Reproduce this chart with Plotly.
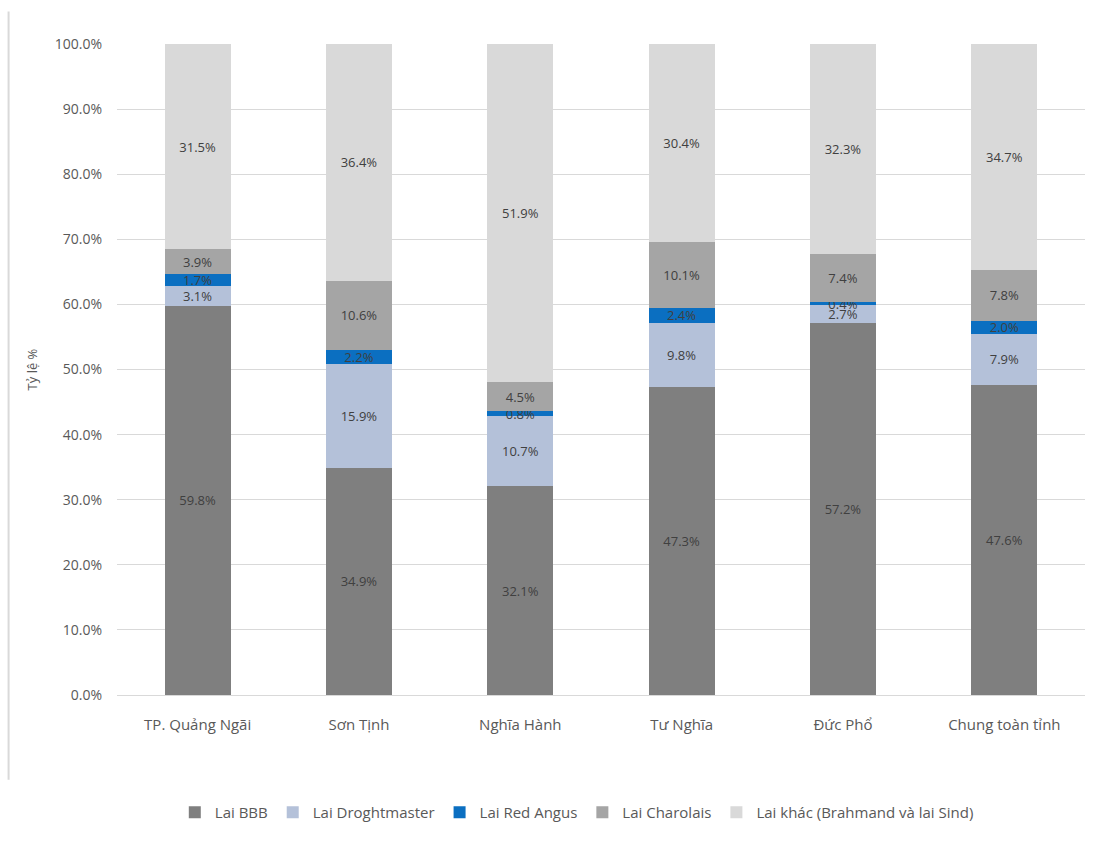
import plotly.graph_objects as go

districts = ["TP. Quảng Ngãi", "Sơn Tịnh", "Nghĩa Hành", "Tư Nghĩa", "Đức Phổ", "Chung toàn tỉnh"]
lai_bbb = [59.8, 34.9, 32.1, 47.3, 57.2, 47.6]
lai_droghtmaster = [3.1, 15.9, 10.7, 9.8, 2.7, 7.9]
lai_red_angus = [1.7, 2.2, 0.8, 2.4, 0.4, 2.0]
lai_charolais = [3.9, 10.6, 4.5, 10.1, 7.4, 7.8]
lai_khac = [31.5, 36.4, 51.9, 30.4, 32.3, 34.7]

series = [
    ("Lai BBB", lai_bbb, "#7f7f7f"),
    ("Lai Droghtmaster", lai_droghtmaster, "#b4c1d9"),
    ("Lai Red Angus", lai_red_angus, "#0b6fc1"),
    ("Lai Charolais", lai_charolais, "#a5a5a5"),
    ("Lai khác (Brahmand và lai Sind)", lai_khac, "#d9d9d9"),
]

font_family = "Open Sans, Noto Sans, sans-serif"

fig = go.Figure()
for name, vals, color in series:
    fig.add_trace(go.Bar(
        name=name, x=districts, y=vals,
        marker=dict(color=color, line=dict(width=0)),
        texttemplate="%{y:.1f}%",
        textposition="inside",
        insidetextanchor="middle",
        textangle=0,
        constraintext="none",
        textfont=dict(color="#404040", size=13, family=font_family),
        hoverinfo="skip",
    ))

fig.update_layout(
    barmode="stack",
    bargap=0.59,
    width=1103, height=841,
    margin=dict(l=117, r=18, t=44, b=142),
    paper_bgcolor="white", plot_bgcolor="white",
    font=dict(family=font_family, color="#595959", size=13),
    showlegend=True,
    legend=dict(orientation="h", x=0.475, xanchor="center", y=-0.155, yanchor="top",
                font=dict(size=15, color="#595959"), itemwidth=30,
                traceorder="normal"),
)
fig.update_yaxes(
    range=[0, 100], dtick=10, tickformat=".1f", ticksuffix="%",
    showgrid=True, gridcolor="#d9d9d9", gridwidth=1,
    zeroline=False, showline=False, ticks="",
    ticklabelstandoff=14,
    title=dict(text="Tỷ lệ %", font=dict(size=13, color="#595959"), standoff=14),
    tickfont=dict(size=14, color="#595959"),
)
fig.update_xaxes(
    showline=True, linecolor="#d9d9d9", linewidth=1, ticks="",
    ticklabelstandoff=16,
    tickfont=dict(size=15, color="#595959"),
)
# light border on the left edge of the chart area
fig.add_shape(type="line", xref="paper", yref="paper",
              x0=-0.112, x1=-0.112, y0=-0.13, y1=1.05,
              line=dict(color="#d9d9d9", width=2))

fig.write_html("out.html")
